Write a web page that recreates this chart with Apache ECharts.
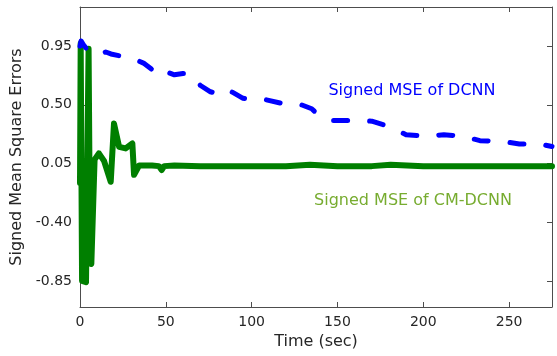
<!DOCTYPE html>
<html>
<head>
<meta charset="utf-8">
<script src="https://cdn.jsdelivr.net/npm/echarts@6/dist/echarts.min.js"></script>
<style>
  html, body { margin: 0; padding: 0; background: #fff; }
  #chart { width: 557px; height: 356px; }
</style>
</head>
<body>
<div id="chart"></div>
<script>
// signed MSE of DCNN (blue dashed)
const dcnnTime = [0, 0.6, 2, 5, 8, 12, 15, 18, 25, 30, 37, 43, 47, 51, 55, 60, 64, 70, 76, 80, 85.6, 89, 95, 100, 108, 118, 129, 135, 139, 143, 147.6, 159, 170, 181, 190, 201, 212, 223, 233, 246, 256, 268, 275];
const dcnnMse = [0.95, 0.99, 0.96, 0.91, 0.89, 0.887, 0.905, 0.89, 0.87, 0.86, 0.82, 0.76, 0.72, 0.75, 0.73, 0.74, 0.74, 0.65, 0.6, 0.586, 0.62, 0.595, 0.55, 0.54, 0.54, 0.51, 0.5, 0.47, 0.42, 0.41, 0.38, 0.38, 0.375, 0.33, 0.27, 0.26, 0.27, 0.26, 0.225, 0.22, 0.2, 0.2, 0.18];

// signed MSE of CM-DCNN (green solid)
const cmTime = [0, 0.4, 1.2, 3.5, 4.2, 5.0, 5.9, 6.6, 8.5, 11, 14, 17.9, 19.8, 22.8, 26.6, 30.5, 31.5, 34.4, 42, 46, 47.6, 49, 55, 70, 85, 100, 120, 134, 150, 170, 181, 200, 230, 260, 275];
const cmMse = [-0.1, 0.97, -0.85, -0.86, -0.85, 0.93, -0.7, -0.72, 0.08, 0.128, 0.07, -0.09, 0.356, 0.178, 0.166, 0.204, -0.037, 0.035, 0.035, 0.03, 0.0, 0.03, 0.035, 0.03, 0.03, 0.03, 0.03, 0.04, 0.03, 0.03, 0.04, 0.03, 0.03, 0.03, 0.03];

const yTicks = [-0.85, -0.40, 0.05, 0.50, 0.95];

const font = "DejaVu Sans";
const axisColor = "#4d4d4d";
const textColor = "#262626";

const chart = echarts.init(document.getElementById("chart"));

const boxX = (pos, showLabel) => ({
  type: "value",
  position: pos,
  min: 0,
  max: 275,
  interval: 50,
  name: showLabel ? "Time (sec)" : "",
  nameLocation: "middle",
  nameGap: 27,
  nameTextStyle: { fontFamily: font, fontSize: 16, color: textColor },
  axisLine: { show: true, onZero: false, lineStyle: { color: axisColor, width: 1 } },
  axisTick: { show: true, inside: true, length: 5, lineStyle: { color: axisColor } },
  axisLabel: {
    show: showLabel,
    margin: 8,
    fontFamily: font,
    fontSize: 14,
    color: textColor,
    showMaxLabel: false
  },
  splitLine: { show: false }
});

const boxY = (pos, showLabel) => ({
  type: "value",
  position: pos,
  min: -1.05,
  max: 1.25,
  name: showLabel ? "Signed Mean Square Errors" : "",
  nameLocation: "middle",
  nameGap: 44,
  nameTextStyle: { fontFamily: font, fontSize: 16, color: textColor },
  axisLine: { show: true, onZero: false, lineStyle: { color: axisColor, width: 1 } },
  axisTick: { show: true, inside: true, length: 5, customValues: yTicks, lineStyle: { color: axisColor } },
  axisLabel: {
    show: showLabel,
    margin: 8,
    customValues: yTicks,
    formatter: (v) => v.toFixed(2),
    fontFamily: font,
    fontSize: 14,
    color: textColor
  },
  splitLine: { show: false }
});

chart.setOption({
  animation: false,
  backgroundColor: "#fff",
  grid: { left: 80, right: 5, top: 7, bottom: 49, containLabel: false, outerBoundsMode: "none" },
  xAxis: [boxX("bottom", true), boxX("top", false)],
  yAxis: [boxY("left", true), boxY("right", false)],
  graphic: [
    {
      type: "text",
      x: 412,
      y: 91,
      style: {
        text: "Signed MSE of DCNN",
        fill: "#0000ff",
        font: "16px " + font,
        align: "center",
        verticalAlign: "middle"
      }
    },
    {
      type: "text",
      x: 413,
      y: 201,
      style: {
        text: "Signed MSE of CM-DCNN",
        fill: "#77ac30",
        font: "16px " + font,
        align: "center",
        verticalAlign: "middle"
      }
    }
  ],
  series: [
    {
      name: "Signed MSE of DCNN",
      type: "line",
      showSymbol: false,
      data: dcnnTime.map((t, i) => [t, dcnnMse[i]]),
      lineStyle: { color: "#0000ff", width: 5, type: [14, 22], cap: "round", join: "round" },
      z: 3
    },
    {
      name: "Signed MSE of CM-DCNN",
      type: "line",
      showSymbol: false,
      data: cmTime.map((t, i) => [t, cmMse[i]]),
      lineStyle: { color: "#007f00", width: 6, cap: "round", join: "round" },
      z: 2
    }
  ]
});
</script>
</body>
</html>
